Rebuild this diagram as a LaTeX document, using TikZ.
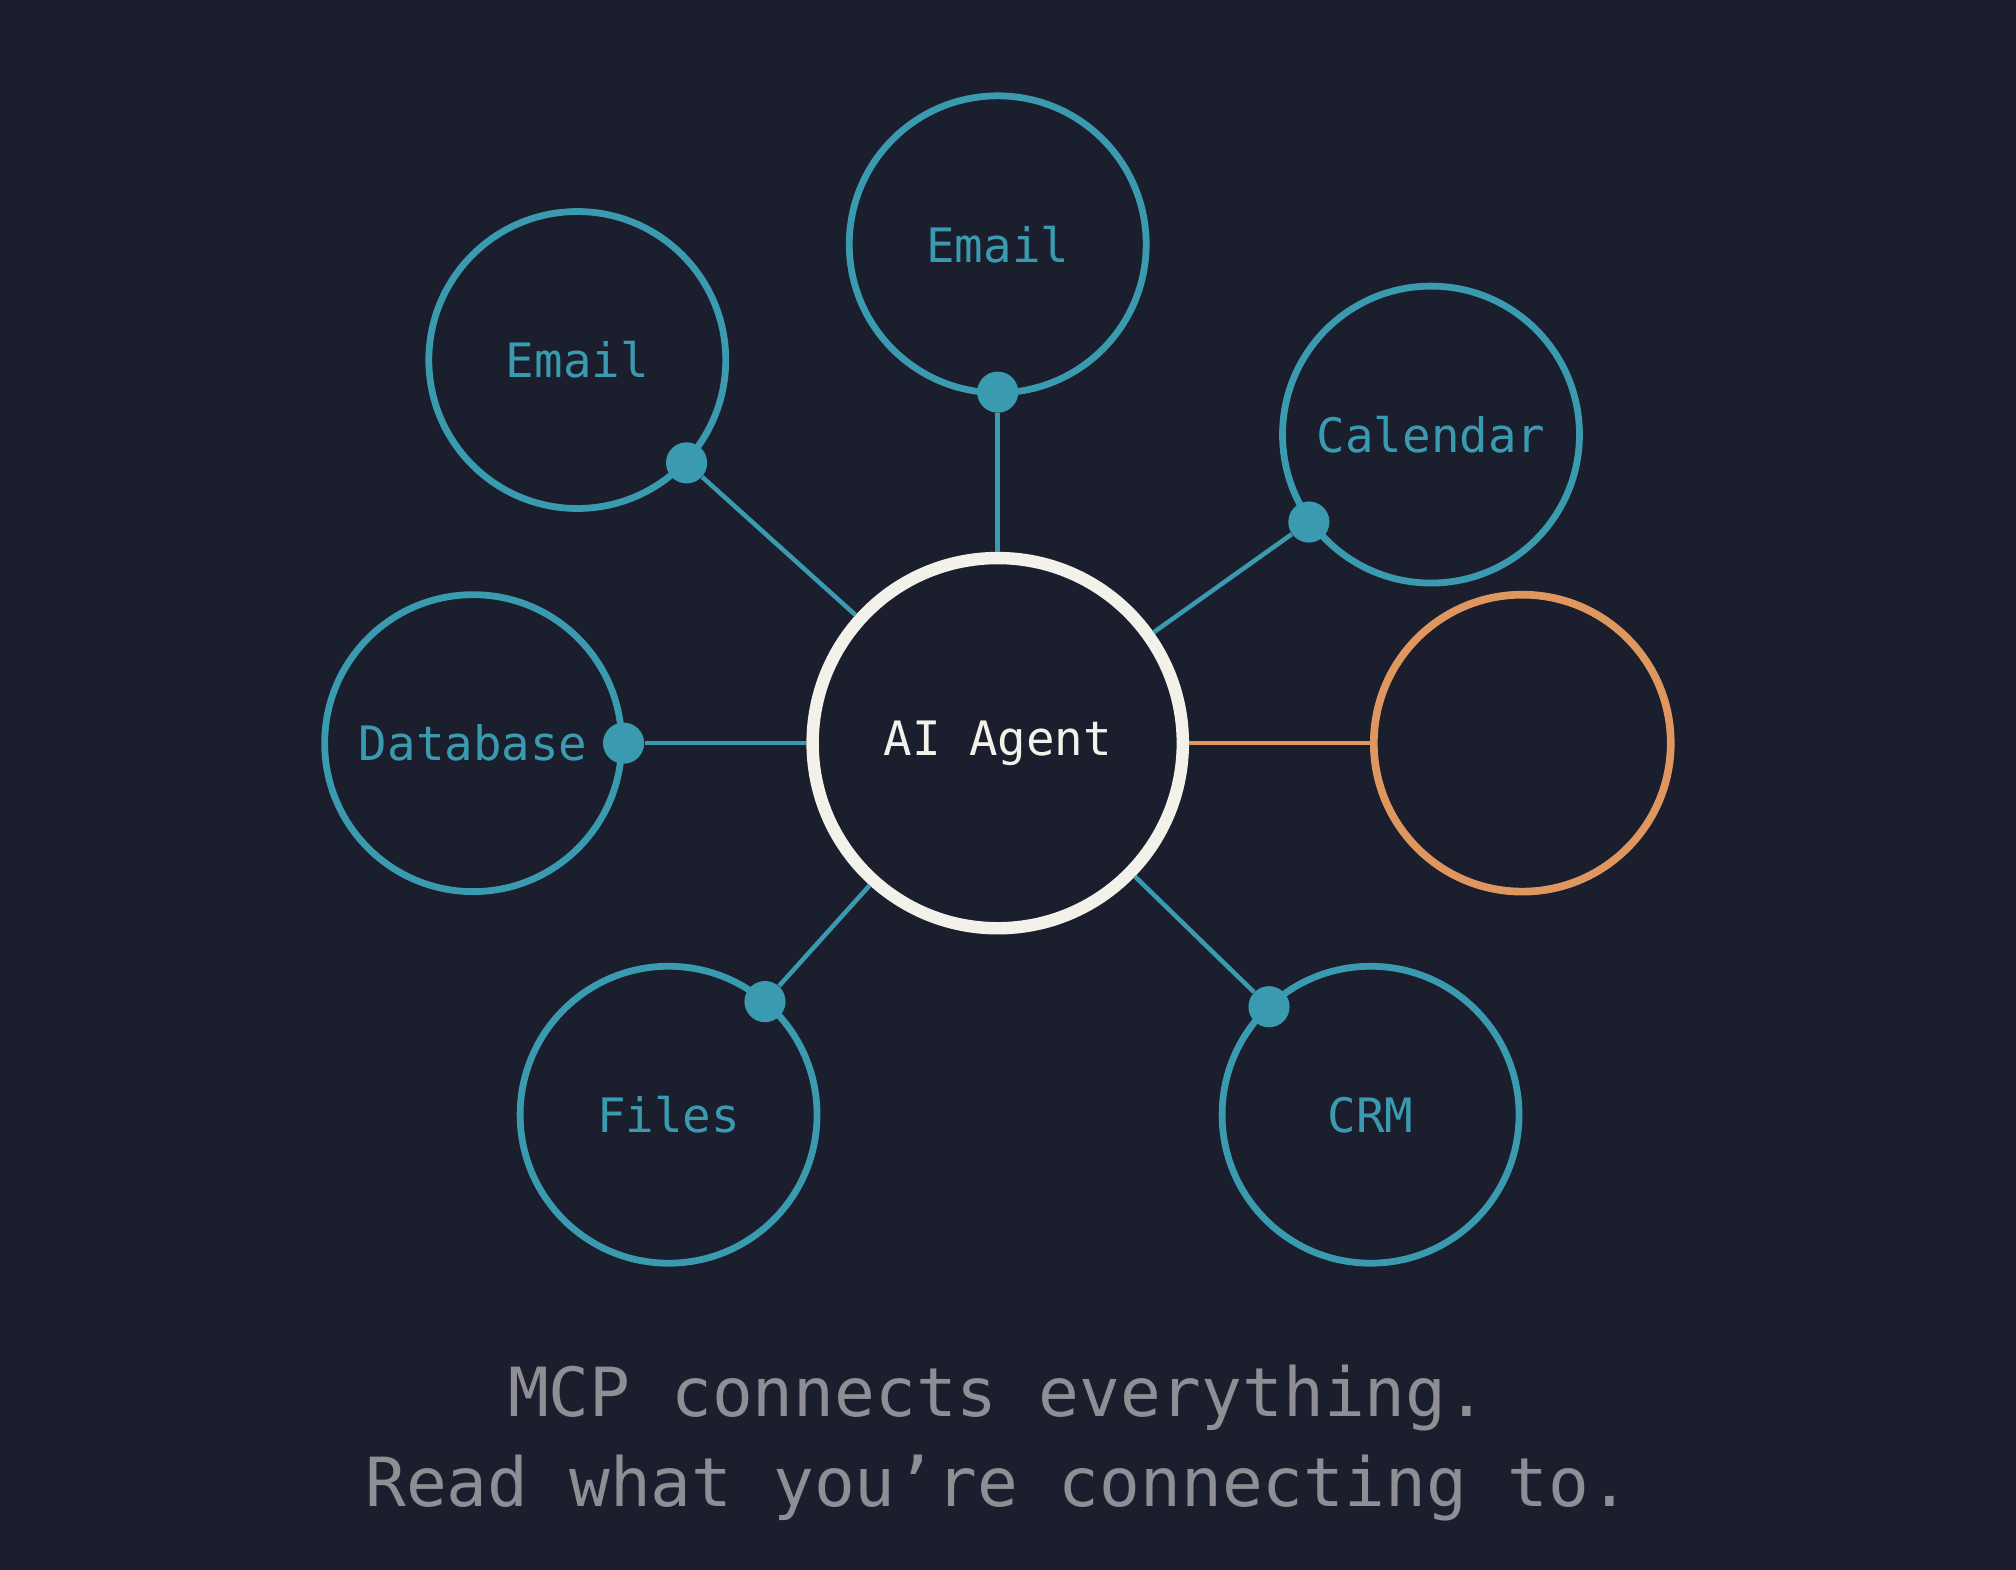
\documentclass[tikz,border=0pt]{standalone}
\usepackage{fontspec}
\setmonofont{DejaVu Sans Mono}
\definecolor{bg}{HTML}{1B1E2D}
\definecolor{teal}{HTML}{3A9BB0}
\definecolor{orng}{HTML}{E0975F}
\definecolor{wht}{HTML}{F2F1EA}
\definecolor{gry}{HTML}{8E8E94}
\begin{document}
\begin{tikzpicture}[x=0.02cm,y=-0.02cm,
  svc/.style={circle,draw=teal,line width=3pt,minimum size=4.62cm,inner sep=0pt,text=teal,font=\ttfamily\fontsize{21}{25}\selectfont},
  hub/.style={circle,draw=wht,line width=5.5pt,fill=bg,minimum size=5.76cm,inner sep=0pt,text=wht,font=\ttfamily\fontsize{21}{25}\selectfont},
  dot/.style={circle,fill=teal,minimum size=0.64cm,inner sep=0pt},
  conn/.style={draw=teal,line width=2pt}]
\fill[bg] (0,0) rectangle (1568,1221);
\useasboundingbox (0,0) rectangle (1568,1221);
\node[svc] (e1) at (776,190) {Email};
\node[svc] (e2) at (449,280) {Email};
\node[svc] (cal) at (1113,338) {Calendar};
\node[svc] (db) at (368,578) {Database};
\node[svc,draw=orng,line width=3.4pt] (new) at (1184,578) {};
\node[svc] (fi) at (520,867) {Files};
\node[svc] (crm) at (1066,867) {CRM};
\node[hub] (ai) at (776,578) {AI Agent};
\node[dot] (d1) at (776,305) {};
\node[dot] (d2) at (534,360) {};
\node[dot] (d3) at (1018,406) {};
\node[dot] (d4) at (485,578) {};
\node[dot] (d5) at (595,779) {};
\node[dot] (d6) at (987,783) {};
\foreach \d in {d1,d2,d3,d4,d5,d6} \draw[conn] (ai) -- (\d);
\draw[draw=orng,line width=2pt] (ai) -- (new);
\node[text=gry,font=\ttfamily\fontsize{30}{36}\selectfont] (t1) at (776,1087) {MCP connects everything.};
\node[text=gry,font=\ttfamily\fontsize{30}{36}\selectfont] (t2) at (776,1157) {Read what you’re connecting to.};
\end{tikzpicture}
\end{document}
